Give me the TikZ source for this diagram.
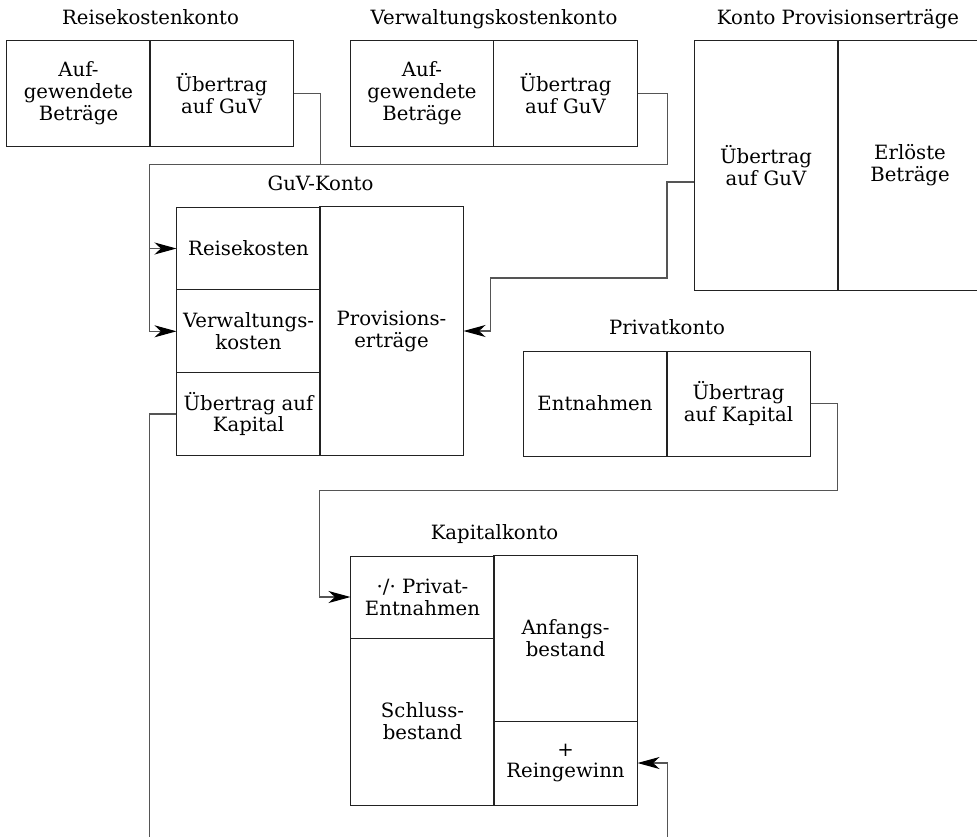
\documentclass[tikz,border=0pt]{standalone}
\usepackage{fontspec}
\setmainfont{DejaVu Serif}
\usetikzlibrary{arrows.meta, calc, positioning}
\definecolor{rahmen}{HTML}{222222}
\definecolor{linie}{HTML}{555555}

\tikzset{
  feld/.style={draw=rahmen, line width=0.7pt, rectangle, inner sep=0pt,
               align=center, minimum width=3.575cm},
  titel/.style={anchor=base},
  buchung/.style={draw=linie, line width=0.8pt,
                  -{Stealth[length=0.55cm, width=0.3cm, inset=0.16cm, color=black]}}
}

\begin{document}
\begin{tikzpicture}[x=0.025cm, y=-0.025cm,
      every node/.style={font=\fontsize{14}{15.6}\selectfont}]
    \useasboundingbox (0,0) rectangle (977,836);
    \clip (0,0) rectangle (977,836);

    % Reisekostenkonto
    \node[feld, minimum height=2.625cm] (RKauf) at (78.5,93.5) {Auf-\\gewendete\\Beträge};
    \node[feld, minimum height=2.625cm] (RKueb) at (221.5,93.5) {Übertrag\\auf GuV};
    \node[titel] at ($(RKauf.north east)+(0,-16)$) {Reisekostenkonto};

    % Verwaltungskostenkonto
    \node[feld, minimum height=2.625cm] (VKauf) at (422,93.5) {Auf-\\gewendete\\Beträge};
    \node[feld, minimum height=2.625cm] (VKueb) at (565.5,93.5) {Übertrag\\auf GuV};
    \node[titel] at ($(VKauf.north east)+(0,-16)$) {Verwaltungskostenkonto};

    % Konto Provisionsertraege
    \node[feld, minimum height=6.225cm] (PEueb) at (766,165.5) {Übertrag\\auf GuV};
    \node[feld, minimum height=6.225cm] (PEerl) at (910,165.5) {Erlöste\\Beträge};
    \node[titel] at ($(PEueb.north east)+(0,-16)$) {Konto Provisionserträge};

    % GuV-Konto
    \node[feld, minimum height=2.067cm] (GVreise) at (248.5,248.5) {Reisekosten};
    \node[feld, minimum height=2.067cm] (GVverw) at (248.5,331.3) {Verwaltungs-\\kosten};
    \node[feld, minimum height=2.067cm] (GVkap) at (248.5,414) {Übertrag auf\\Kapital};
    \node[feld, minimum height=6.2cm] (GVprov) at (391.5,331) {Provisions-\\erträge};
    \node[titel] at ($(GVreise.north east)+(0,-16)$) {GuV-Konto};

    % Privatkonto
    \node[feld, minimum height=2.625cm] (PKentn) at (595,403.5) {Entnahmen};
    \node[feld, minimum height=2.625cm] (PKueb) at (738.5,403.5) {Übertrag\\auf Kapital};
    \node[titel] at ($(PKentn.north east)+(0,-16)$) {Privatkonto};

    % Kapitalkonto
    \node[feld, minimum height=2.05cm] (KAentn) at (422.5,597) {·/· Privat-\\Entnahmen};
    \node[feld, minimum height=4.175cm] (KAschl) at (422.5,721.5) {Schluss-\\bestand};
    \node[feld, minimum height=4.125cm] (KAanf) at (565.5,638.5) {Anfangs-\\bestand};
    \node[feld, minimum height=2.1cm] (KAgew) at (565.5,763) {+\\Reingewinn};
    \node[titel] at ($(KAentn.north east)+(0,-16)$) {Kapitalkonto};

    % Buchungen
    \draw[buchung] (RKueb.east) -| ++(27,71) -| ($(GVreise.west)+(-27,0)$) -- (GVreise.west);
    \draw[buchung] (VKueb.east) -| ++(30,71) -| ($(GVverw.west)+(-27,0)$) -- (GVverw.west);
    \draw[buchung] ($(PEueb.west)+(0,16.5)$) -| ++(-27,96) -| ($(GVprov.east)+(27,0)$) -- (GVprov.east);
    \draw[buchung] (PKueb.east) -| ++(27,87) -| ($(KAentn.west)+(-31,0)$) -- (KAentn.west);
    \draw[buchung] (GVkap.west) -| ++(-27,466) -| ($(KAgew.east)+(30,0)$) -- (KAgew.east);
\end{tikzpicture}
\end{document}
